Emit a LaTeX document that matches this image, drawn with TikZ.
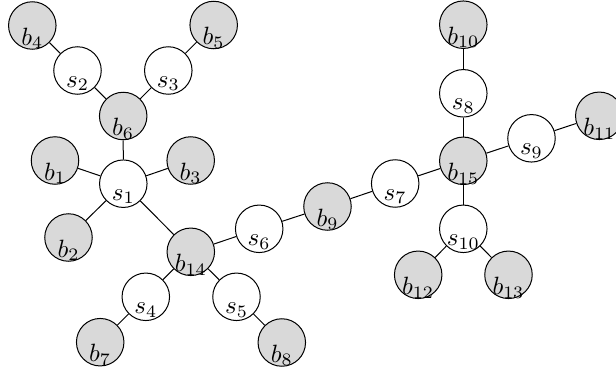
\documentclass[tikz,border=0pt]{standalone}
\begin{document}
\begin{tikzpicture}[x=0.4pt,y=-0.4pt,
  bnode/.style={circle,draw,fill=gray!30,minimum size=19pt,inner sep=0pt},
  snode/.style={circle,draw,fill=white,minimum size=19pt,inner sep=0pt},
  blab/.style={anchor=base,inner sep=0pt,yshift=-7.8pt},
  slab/.style={anchor=base,inner sep=0pt,yshift=-6.6pt}]
\useasboundingbox (0,0) rectangle (616,374);
% nodes
\node[bnode] (b4) at (32.3,25.5) {};
\node[snode] (s2) at (77.5,70.5) {};
\node[snode] (s3) at (168.3,70.5) {};
\node[bnode] (b5) at (213.7,25) {};
\node[bnode] (b6) at (123.2,116) {};
\node[bnode] (b1) at (55,160.5) {};
\node[bnode] (b3) at (190.7,160.5) {};
\node[snode] (s1) at (123.3,183.7) {};
\node[bnode] (b2) at (68.5,237.5) {};
\node[bnode] (b14) at (190.8,251.8) {};
\node[snode] (s6) at (259.2,228.8) {};
\node[snode] (s4) at (145.8,296.8) {};
\node[snode] (s5) at (236.5,296.8) {};
\node[bnode] (b7) at (100.2,342.2) {};
\node[bnode] (b8) at (281.8,342.5) {};
\node[bnode] (b9) at (327.5,206.5) {};
\node[snode] (s7) at (395.2,183.5) {};
\node[bnode] (b10) at (463.3,24.7) {};
\node[snode] (s8) at (463.3,93.3) {};
\node[bnode] (b15) at (463.3,160.8) {};
\node[snode] (s9) at (531.5,138.3) {};
\node[bnode] (b11) at (599.3,115.8) {};
\node[snode] (s10) at (463.3,228.8) {};
\node[bnode] (b12) at (418.2,274.8) {};
\node[bnode] (b13) at (508.5,274.8) {};
% labels
\foreach \n/\t in {b4/b_4,b5/b_5,b6/b_6,b1/b_1,b3/b_3,b2/b_2,b14/b_{14},b7/b_7,
  b8/b_8,b9/b_9,b10/b_{10},b15/b_{15},b11/b_{11},b12/b_{12},b13/b_{13}}
  \node[blab] (l\n) at (\n.center) {$\t$};
\foreach \n/\t in {s2/s_2,s3/s_3,s1/s_1,s6/s_6,s4/s_4,s5/s_5,s7/s_7,s8/s_8,
  s9/s_9,s10/s_{10}}
  \node[slab] (l\n) at (\n.center) {$\t$};
% edges
\foreach \a/\b in {b4/s2,s2/b6,s3/b6,b5/s3,b6/s1,b1/s1,b3/s1,b2/s1,s1/b14,b14/s6,
  b14/s4,b14/s5,s4/b7,s5/b8,s6/b9,b9/s7,s7/b15,b15/s8,s8/b10,b15/s9,s9/b11,
  b15/s10,s10/b12,s10/b13}
  \draw (\a) -- (\b);
\end{tikzpicture}
\end{document}
